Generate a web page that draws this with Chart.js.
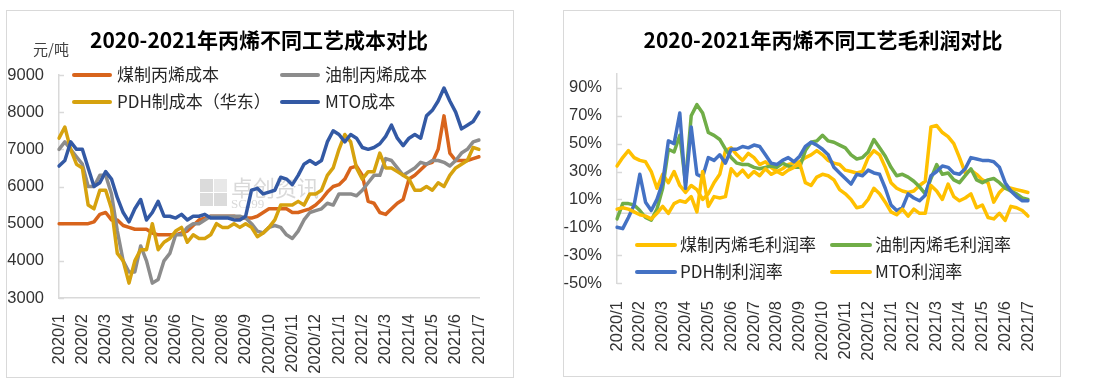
<!DOCTYPE html>
<html>
<head>
<meta charset="utf-8">
<script src="https://cdn.jsdelivr.net/npm/chart.js@4.4.0/dist/chart.umd.min.js"></script>
<style>
  body { margin: 0; background: #fff; }
  .box { position: absolute; border: 1px solid #d9d9d9; background: #fff; }
  #box1 { left: 6px; top: 10px; width: 506px; height: 366px; }
  #box2 { left: 563px; top: 10px; width: 496px; height: 365px; }
  canvas { display: block; }
</style>
</head>
<body>
<div class="box" id="box1"><canvas id="costChart" width="506" height="366"></canvas></div>
<div class="box" id="box2"><canvas id="profitChart" width="496" height="365"></canvas></div>
<script>
// month tick labels, data is read off roughly every quarter month
const months = ['2020/1', '2020/2', '2020/3', '2020/4', '2020/5', '2020/6', '2020/7', '2020/8', '2020/9',
    '2020/10', '2020/11', '2020/12', '2021/1', '2021/2', '2021/3', '2021/4', '2021/5', '2021/6', '2021/7'];
const stepsPerMonth = 4;

// left chart: cost, 元/吨
const costTicks = [3000, 4000, 5000, 6000, 7000, 8000, 9000];
const coalCost = [5000, 5000, 5000, 5000, 5000, 5000, 5050, 5250, 5300, 5100, 5100, 4950, 4900, 4850, 4850, 4850,
    4750, 4700, 4700, 4700, 4700, 4750, 4800, 4950, 5100, 5150, 5200, 5200, 5200, 5200, 5200, 5150, 5150, 5150,
    5200, 5300, 5400, 5400, 5400, 5400, 5300, 5300, 5350, 5400, 5500, 5650, 5850, 6000, 6050, 6200, 6500, 6550,
    6300, 5600, 5550, 5300, 5250, 5400, 5550, 5650, 6200, 6300, 6450, 6600, 6650, 7000, 7900, 6900, 6700, 6700,
    6700, 6750, 6800];
const oilCost = [7000, 7200, 7000, 6800, 6600, 6000, 6000, 6300, 6300, 5800, 4800, 4000, 3700, 3700, 4400, 4000,
    3400, 3500, 4000, 4200, 4700, 4700, 4900, 5000, 5000, 5100, 5200, 5200, 5200, 5200, 5200, 5200, 5150, 5000,
    4800, 4750, 4900, 4950, 4900, 4700, 4600, 4800, 5100, 5300, 5350, 5400, 5550, 5500, 5800, 5800, 5800, 5750,
    5900, 6100, 6300, 6300, 6750, 6700, 6500, 6300, 6400, 6500, 6650, 6600, 6700, 6700, 6650, 6550, 6700, 6900,
    7000, 7200, 7250];
const pdhCost = [7300, 7600, 7000, 6600, 6500, 5500, 5400, 5900, 5900, 5400, 4200, 4000, 3400, 4000, 4300, 4300,
    5000, 4300, 4500, 4600, 4800, 4900, 4500, 4700, 4600, 4600, 4700, 5000, 4900, 4900, 5000, 4900, 5000, 4900,
    4650, 4750, 4900, 5100, 5500, 5500, 5500, 5600, 5500, 5800, 5800, 5900, 6300, 6500, 7000, 7400, 7200, 6500,
    6200, 6400, 6400, 6900, 6500, 6500, 6400, 6300, 6200, 5900, 5900, 6000, 5900, 6100, 6000, 6300, 6500, 6600,
    6700, 7050, 7000];
const mtoCost = [6550, 6700, 7200, 7000, 7000, 6500, 6000, 6100, 6400, 6200, 5700, 5300, 5050, 5400, 5650, 5100,
    5300, 5600, 5200, 5200, 5150, 5250, 5100, 5200, 5200, 5250, 5150, 5150, 5150, 5150, 5100, 5100, 5200, 5900,
    5950, 5800, 5850, 5900, 6250, 6200, 6050, 6300, 6600, 6700, 6600, 6700, 7200, 7500, 7400, 7200, 7400, 7300,
    7050, 7000, 7050, 7150, 7350, 7650, 7300, 7100, 7300, 7400, 7300, 7900, 8050, 8300, 8650, 8300, 8000, 7550,
    7650, 7750, 8000];

// right chart: gross margin, %
const profitTicks = [-50, -30, -10, 10, 30, 50, 70, 90];
const coalMargin = [34, 40, 45, 40, 38, 37, 30, 18, 28, 22, 30, 20, 15, 20, 17, 10, 14, 22, 28, 45, 47, 42, 38, 43,
    40, 35, 37, 33, 30, 32, 35, 36, 37, 40, 42, 45, 42, 38, 36, 35, 31, 30, 29, 30, 40, 45, 42, 33, 22, 18, 16, 15,
    16, 20, 23, 62, 63, 58, 55, 50, 40, 29, 31, 28, 24, 22, 8, 15, 19, 18, 17, 16, 15];
const oilMargin = [-4, 7, 7, 6, 2, -3, -5, 3, 18, 46, 44, 56, 22, 70, 78, 72, 58, 56, 53, 46, 40, 36, 35, 35, 33,
    32, 33, 34, 33, 36, 34, 33, 33, 45, 51, 52, 56, 52, 51, 49, 47, 42, 39, 40, 44, 53, 47, 41, 33, 27, 28, 26, 23,
    19, 14, 25, 35, 28, 29, 24, 22, 27, 32, 24, 22, 24, 25, 22, 18, 16, 14, 11, 10];
const pdhMargin = [-10, -11, -3, 6, 28, 8, 2, 10, 22, 52, 50, 72, 18, 62, 28, 26, 40, 38, 42, 36, 46, 46, 48, 47,
    49, 48, 42, 36, 35, 38, 40, 37, 41, 48, 51, 49, 46, 42, 33, 29, 25, 21, 28, 27, 31, 29, 28, 18, 6, 2, 4, 14, 11,
    9, 13, 27, 30, 34, 33, 29, 28, 32, 40, 39, 38, 38, 37, 33, 22, 16, 12, 9, 9];
const mtoMargin = [3, 4, 3, 1, -1, -2, -4, 0, 5, 0, 7, 9, 8, 12, 1, 30, 5, 12, 11, 12, 32, 27, 31, 26, 30, 27, 32,
    28, 30, 28, 31, 33, 36, 22, 20, 26, 28, 27, 24, 17, 14, 10, 4, 5, 10, 18, 14, 8, 1, -1, 3, -2, 3, 0, 0, 20, 16,
    10, 21, 12, 9, 11, 14, 4, 6, -3, -4, 0, -5, 5, 4, 2, -2];

const pointLabels = [];
for (let i = 0; i <= (months.length - 1) * stepsPerMonth; i++) {
    pointLabels.push(i % stepsPerMonth === 0 ? months[i / stepsPerMonth] : '');
}

const FONT = '"Noto Sans CJK SC", "Noto Sans", sans-serif';

// title, unit, legend, watermark, zero line and inner tick marks drawn by hand
const overlay = {
    id: 'overlay',
    beforeDatasetsDraw(chart, args, opts) {
        const ctx = chart.ctx;
        const area = chart.chartArea;
        ctx.save();
        if (opts.watermark) {
            const w = opts.watermark;
            ctx.fillStyle = 'rgba(190,190,190,0.55)';
            ctx.fillRect(w.x, w.y, 13, 13);
            ctx.fillRect(w.x + 14, w.y + 14, 13, 13);
            ctx.fillRect(w.x, w.y + 14, 13, 13);
            ctx.fillStyle = 'rgba(190,190,190,0.35)';
            ctx.fillRect(w.x + 14, w.y, 13, 13);
            ctx.fillStyle = 'rgba(185,185,185,0.55)';
            ctx.font = '22px ' + FONT;
            ctx.textBaseline = 'middle';
            ctx.fillText('卓创资讯', w.x + 31, w.y + 9);
            ctx.font = '13px "Liberation Serif", serif';
            ctx.fillText('SCI99', w.x + 31, w.y + 26);
        }
        const ys = chart.scales.y;
        ctx.strokeStyle = '#d9d9d9';
        ctx.lineWidth = 1.5;
        ys.ticks.forEach(t => {
            const y = Math.round(ys.getPixelForValue(t.value)) + 0.5;
            ctx.beginPath();
            ctx.moveTo(area.left, y);
            ctx.lineTo(area.left + 5, y);
            ctx.stroke();
        });
        if (opts.zeroLine) {
            const y = ys.getPixelForValue(0);
            ctx.beginPath();
            ctx.moveTo(area.left, y);
            ctx.lineTo(area.right, y);
            ctx.stroke();
        }
        ctx.restore();
    },
    afterDraw(chart, args, opts) {
        const ctx = chart.ctx;
        ctx.save();
        ctx.fillStyle = '#000';
        ctx.font = 'bold 21px ' + FONT;
        ctx.textAlign = 'center';
        ctx.textBaseline = 'middle';
        ctx.fillText(opts.title.text, opts.title.x, opts.title.y);
        if (opts.unit) {
            ctx.fillStyle = '#404040';
            ctx.font = '15px ' + FONT;
            ctx.textAlign = 'left';
            ctx.fillText(opts.unit.text, opts.unit.x, opts.unit.y);
        }
        const lg = opts.legend;
        ctx.font = '17px ' + FONT;
        ctx.textAlign = 'left';
        chart.data.datasets.forEach((ds, i) => {
            const x = lg.cols[i % 2];
            const y = lg.rows[Math.floor(i / 2)];
            ctx.strokeStyle = ds.borderColor;
            ctx.lineWidth = 4;
            ctx.lineCap = 'round';
            ctx.beginPath();
            ctx.moveTo(x, y);
            ctx.lineTo(x + lg.len, y);
            ctx.stroke();
            ctx.fillStyle = '#262626';
            ctx.fillText(ds.label, x + lg.len + lg.gap, y);
        });
        ctx.restore();
    }
};

const tickFont = { family: '"Liberation Sans", Arial, sans-serif', size: 16.5 };
const tickColor = '#333';

function xScale(height, padding, showBorder) {
    return {
        type: 'category',
        offset: false,
        grid: { display: false },
        border: { display: showBorder, color: '#d9d9d9', width: 1.5 },
        ticks: { autoSkip: false, maxRotation: 90, minRotation: 90, padding: padding, color: tickColor, font: tickFont },
        afterFit(s) { s.height = height; }
    };
}

function yScale(min, max, tickValues, width, suffix) {
    return {
        min: min,
        max: max,
        grid: { display: false, drawTicks: false },
        border: { color: '#d9d9d9', width: 1.5 },
        afterBuildTicks(s) { s.ticks = tickValues.map(v => ({ value: v })); },
        ticks: { padding: 15, color: tickColor, font: tickFont, callback: v => v + suffix },
        afterFit(s) { s.width = width; }
    };
}

function series(label, data, color, order) {
    return { label: label, data: data, borderColor: color, backgroundColor: color, order: order };
}

const lineElements = {
    point: { radius: 0 },
    line: { borderWidth: 3.5, tension: 0, borderJoinStyle: 'round', borderCapStyle: 'round' }
};

new Chart(document.getElementById('costChart'), {
    type: 'line',
    data: {
        labels: pointLabels,
        datasets: [
            series('煤制丙烯成本', coalCost, '#D8641C', 3),
            series('油制丙烯成本', oilCost, '#8C8C8C', 2),
            series('PDH制成本（华东）', pdhCost, '#D6A20E', 1),
            series('MTO成本', mtoCost, '#3359A4', 0)
        ]
    },
    options: {
        responsive: false,
        animation: false,
        layout: { padding: { top: 64, right: 34, bottom: 0, left: 0 } },
        elements: lineElements,
        plugins: {
            legend: { display: false },
            tooltip: { enabled: false },
            overlay: {
                title: { text: '2020-2021年丙烯不同工艺成本对比', x: 252, y: 29 },
                unit: { text: '元/吨', x: 26, y: 38 },
                legend: { cols: [67, 275], rows: [64, 91], len: 36, gap: 7 },
                watermark: { x: 193, y: 168 }
            }
        },
        scales: {
            x: xScale(79, 8, true),
            y: yScale(3000, 9000, costTicks, 52, '')
        }
    },
    plugins: [overlay]
});

new Chart(document.getElementById('profitChart'), {
    type: 'line',
    data: {
        labels: pointLabels,
        datasets: [
            series('煤制丙烯毛利润率', coalMargin, '#FFC000', 3),
            series('油制丙烯毛利润率', oilMargin, '#70AD47', 2),
            series('PDH制利润率', pdhMargin, '#4472C4', 1),
            series('MTO利润率', mtoMargin, '#FFC000', 0)
        ]
    },
    options: {
        responsive: false,
        animation: false,
        layout: { padding: { top: 63, right: 32, bottom: 0, left: 0 } },
        elements: lineElements,
        plugins: {
            legend: { display: false },
            tooltip: { enabled: false },
            overlay: {
                title: { text: '2020-2021年丙烯不同工艺毛利润对比', x: 259, y: 29 },
                legend: { cols: [73, 268], rows: [234, 261], len: 38, gap: 5 },
                zeroLine: true
            }
        },
        scales: {
            x: xScale(93, 10, false),
            y: yScale(-50, 100, profitTicks, 53, '%')
        }
    },
    plugins: [overlay]
});
</script>
</body>
</html>
